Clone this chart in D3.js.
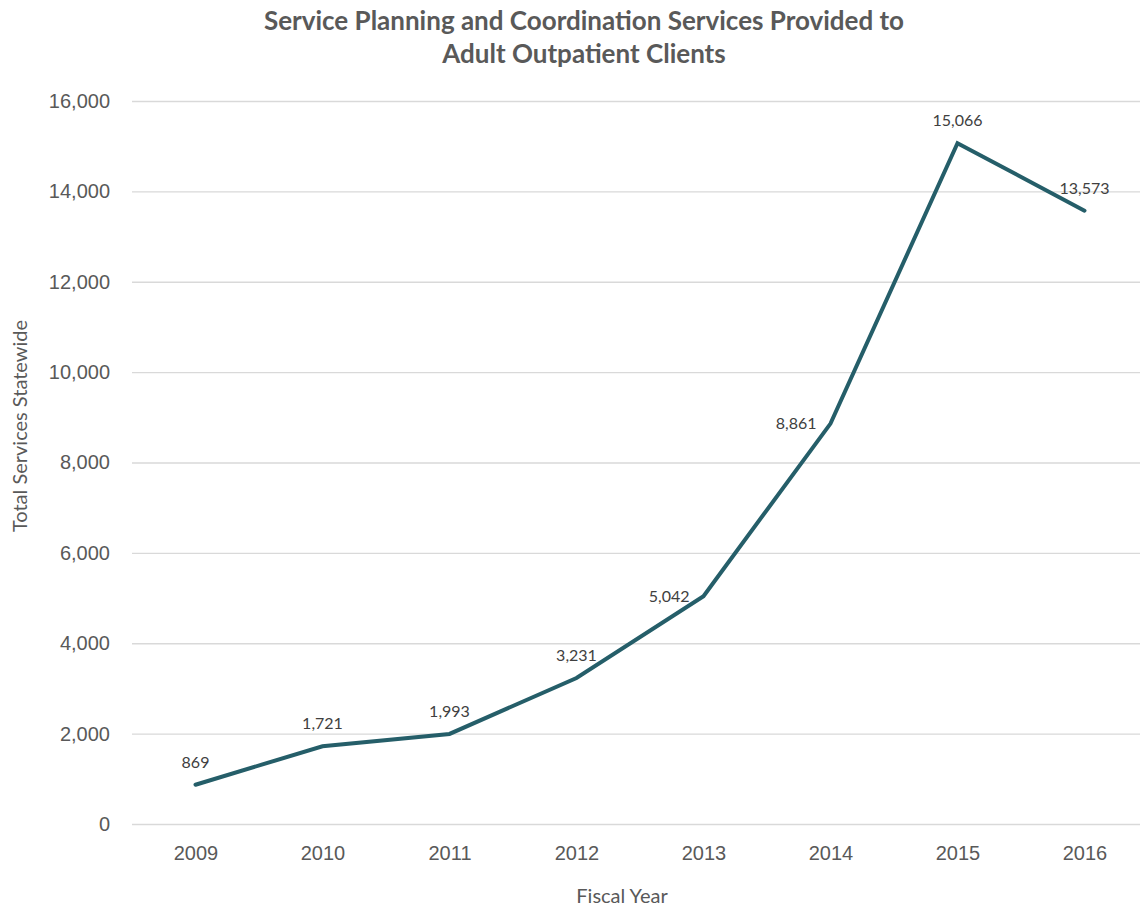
<!DOCTYPE html>
<html>
<head>
<meta charset="utf-8">
<script src="https://cdn.jsdelivr.net/npm/d3@7"></script>
<style>
    body { margin: 0; background: #fff; }
    svg { display: block; font-family: Lato, "Open Sans", sans-serif; }
</style>
</head>
<body>
<div id="chart"></div>
<script>
// chart data
const years = ['2009', '2010', '2011', '2012', '2013', '2014', '2015', '2016'];
const services = [869, 1721, 1993, 3231, 5042, 8861, 15066, 13573];
const yTicks = [0, 2000, 4000, 6000, 8000, 10000, 12000, 14000, 16000];

// where each data label sits relative to its point
const labelSide = ['top', 'top', 'top', 'top', 'left', 'left', 'top', 'top'];

const width = 1140, height = 909;
const margin = {top: 101, right: -8, bottom: 85, left: 132};
const innerW = width - margin.left - margin.right;
const innerH = height - margin.top - margin.bottom;

const svg = d3.select('#chart').append('svg')
    .attr('width', width)
    .attr('height', height);

const g = svg.append('g')
    .attr('transform', `translate(${margin.left},${margin.top})`);

const x = d3.scalePoint()
    .domain(years)
    .range([0, innerW])
    .padding(0.5);

const y = d3.scaleLinear()
    .domain([0, 16000])
    .range([innerH, 0]);

const fmt = d3.format(',');

// gridlines + y labels
const yAxis = g.append('g')
    .call(d3.axisLeft(y).tickValues(yTicks).tickSize(-innerW).tickPadding(22).tickFormat(fmt));
yAxis.select('.domain').remove();
yAxis.selectAll('.tick line').attr('stroke', '#d9d9d9').attr('stroke-width', 1.3);
yAxis.selectAll('.tick text')
    .attr('fill', '#595959')
    .style('font-size', '20px');

// x labels
const xAxis = g.append('g')
    .attr('transform', `translate(0,${innerH})`)
    .call(d3.axisBottom(x).tickSize(0).tickPadding(22));
xAxis.select('.domain').remove();
xAxis.selectAll('.tick text')
    .attr('fill', '#595959')
    .style('font-size', '20px');

// line
const line = d3.line()
    .x((d, i) => x(years[i]))
    .y(d => y(d));

g.append('path')
    .datum(services)
    .attr('d', line)
    .attr('fill', 'none')
    .attr('stroke', '#255e69')
    .attr('stroke-width', 4)
    .attr('stroke-linejoin', 'miter')
    .attr('stroke-linecap', 'round');

// data labels
g.selectAll('.val')
    .data(services)
    .enter().append('text')
    .attr('class', 'val')
    .attr('x', (d, i) => labelSide[i] === 'left' ? x(years[i]) - 14 : x(years[i]))
    .attr('y', (d, i) => labelSide[i] === 'left' ? y(d) : y(d) - 17)
    .attr('dy', (d, i) => labelSide[i] === 'left' ? '0.35em' : 0)
    .attr('text-anchor', (d, i) => labelSide[i] === 'left' ? 'end' : 'middle')
    .attr('fill', '#404040')
    .style('font-size', '16px')
    .text(d => fmt(d));

// title
const title = svg.append('text')
    .attr('text-anchor', 'middle')
    .attr('fill', '#595959')
    .style('font-size', '26px')
    .style('font-weight', 'bold');
title.append('tspan').attr('x', 584).attr('y', 30).text('Service Planning and Coordination Services Provided to');
title.append('tspan').attr('x', 584).attr('y', 63).text('Adult Outpatient Clients');

// axis titles
svg.append('text')
    .attr('x', 622)
    .attr('y', 903)
    .attr('text-anchor', 'middle')
    .attr('fill', '#595959')
    .style('font-size', '20px')
    .text('Fiscal Year');

svg.append('text')
    .attr('transform', 'translate(27,426) rotate(-90)')
    .attr('text-anchor', 'middle')
    .attr('fill', '#595959')
    .style('font-size', '20px')
    .text('Total Services Statewide');
</script>
</body>
</html>
